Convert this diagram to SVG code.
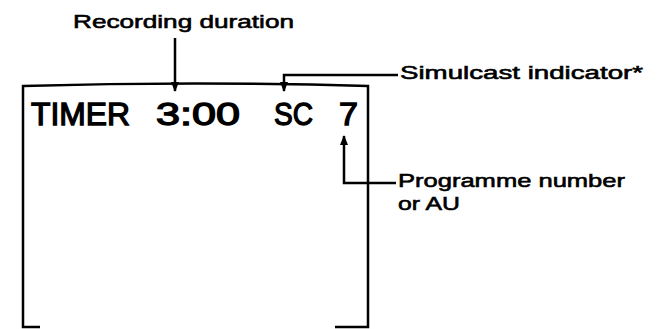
<svg xmlns="http://www.w3.org/2000/svg" width="662" height="329" viewBox="0 0 662 329">
<defs>
<style>
.lbl{font-family:"Liberation Sans",Arial,sans-serif;font-weight:normal;font-size:19px;fill:#000;stroke:#000;stroke-width:0.6}
.disp{font-family:"Liberation Sans",Arial,sans-serif;font-weight:normal;font-size:31px;fill:#000;stroke:#000;stroke-width:1.3}
.ln{stroke:#000;stroke-width:2.5;fill:none}
</style>
<marker id="ah" viewBox="0 0 10 10" refX="9" refY="5" markerWidth="4" markerHeight="4" orient="auto" markerUnits="strokeWidth">
<path d="M0,1 L10,5 L0,9 z" fill="#000"/>
</marker>
</defs>
<rect width="662" height="329" fill="#fff"/>
<g id="screen">
<path class="ln" d="M40,327 H23 V86 Q195,81 368,86 V327 H335"/>
<text class="disp" x="31" y="125" textLength="99" lengthAdjust="spacingAndGlyphs">TIMER</text>
<text class="disp" x="156" y="125" textLength="84" lengthAdjust="spacingAndGlyphs">3:00</text>
<text class="disp" x="274" y="125" textLength="39" lengthAdjust="spacingAndGlyphs">SC</text>
<text class="disp" x="339" y="125" textLength="19" lengthAdjust="spacingAndGlyphs">7</text>
</g>
<g id="recording-duration">
<text class="lbl" x="73" y="28" textLength="221" lengthAdjust="spacingAndGlyphs">Recording duration</text>
</g>
<g id="simulcast">
<text class="lbl" x="400" y="79" textLength="243" lengthAdjust="spacingAndGlyphs">Simulcast indicator*</text>
</g>
<g id="programme">
<text class="lbl" x="398" y="187" textLength="227" lengthAdjust="spacingAndGlyphs">Programme number</text>
<text class="lbl" x="398" y="210" textLength="62" lengthAdjust="spacingAndGlyphs">or AU</text>
</g>
<g id="connectors">
<path class="ln" d="M175,38 V91" marker-end="url(#ah)"/>
<path class="ln" d="M398,75 H284 V91" marker-end="url(#ah)"/>
<path class="ln" d="M396,183 H344 V136" marker-end="url(#ah)"/>
</g>
</svg>
